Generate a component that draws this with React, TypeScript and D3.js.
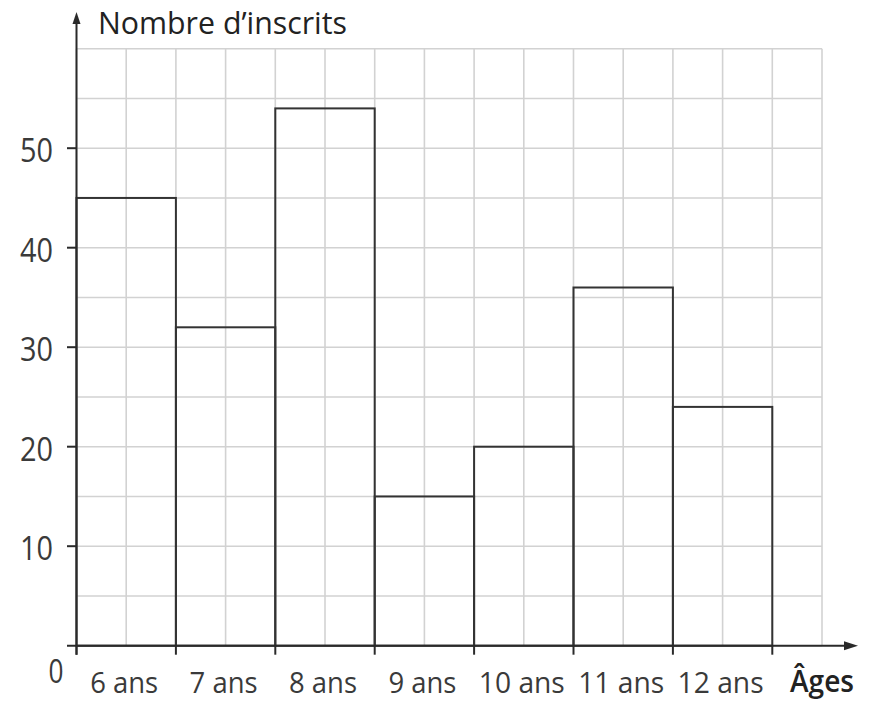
import React from "react";
import * as d3 from "d3";

const categories = ["6 ans", "7 ans", "8 ans", "9 ans", "10 ans", "11 ans", "12 ans"];
const values = [45, 32, 54, 15, 20, 36, 24];
const yTicks = [10, 20, 30, 40, 50];
const yTitle = "Nombre d\u2019inscrits";
const xTitle = "\u00C2ges";

const W = 872;
const H = 705;
const FONT = "'Open Sans', 'Noto Sans', sans-serif";

export default function App() {
  // each category spans 2 grid cells; grid has 15 cells horizontally
  const x = d3.scaleLinear().domain([0, 7.5]).range([76.5, 822]);
  const y = d3.scaleLinear().domain([0, 60]).range([645.7, 48.7]);

  const gridX = d3.range(0, 7.5 + 0.001, 0.5);
  const gridY = d3.range(0, 60 + 0.001, 5);

  const labelWidth = (s: string) => (s.length > 5 ? 86 : 68);

  return (
    <svg
      width={W}
      height={H}
      style={{ position: "absolute", left: 0, top: 0, background: "#fff" }}
    >
      {/* grid */}
      <g stroke="#d2d2d2" strokeWidth={1.6}>
        {gridX.map((g) => (
          <line key={"gx" + g} x1={x(g)} x2={x(g)} y1={y(0)} y2={y(60)} />
        ))}
        {gridY.map((g) => (
          <line key={"gy" + g} x1={x(0)} x2={x(7.5)} y1={y(g)} y2={y(g)} />
        ))}
      </g>

      {/* bars */}
      <g fill="none" stroke="#333" strokeWidth={2}>
        {values.map((v, i) => (
          <rect
            key={categories[i]}
            x={x(i)}
            y={y(v)}
            width={x(i + 1) - x(i)}
            height={y(0) - y(v)}
          />
        ))}
      </g>

      {/* axes */}
      <g stroke="#2a2a2a" strokeWidth={2}>
        <line x1={x(0)} x2={x(0)} y1={y(0) + 9} y2={22} />
        <line x1={67} x2={848} y1={y(0)} y2={y(0)} />
        {d3.range(0, 8).map((i) => (
          <line key={"xt" + i} x1={x(i)} x2={x(i)} y1={y(0)} y2={y(0) + 9} />
        ))}
        {yTicks.map((t) => (
          <line key={"yt" + t} x1={67} x2={x(0)} y1={y(t)} y2={y(t)} />
        ))}
      </g>
      <path d={`M${x(0)},12 L${x(0) - 4},24 L${x(0) + 4},24 Z`} fill="#2a2a2a" />
      <path d={`M858,${y(0)} L844,${y(0) - 4.5} L844,${y(0) + 4.5} Z`} fill="#2a2a2a" />

      {/* y tick labels */}
      <g fill="#3a3a3a" fontFamily={FONT} fontSize={33}>
        {yTicks.map((t) => (
          <text
            key={"yl" + t}
            x={53}
            y={y(t) + 14}
            textAnchor="end"
            textLength={33}
            lengthAdjust="spacingAndGlyphs"
          >
            {t}
          </text>
        ))}
        <text x={56} y={683} textAnchor="middle" textLength={15} lengthAdjust="spacingAndGlyphs">
          0
        </text>
      </g>

      {/* x category labels */}
      <g fill="#3a3a3a" fontFamily={FONT} fontSize={30}>
        {categories.map((c, i) => (
          <text
            key={"xl" + c}
            x={x(i + 0.5) - 2}
            y={693}
            textAnchor="middle"
            textLength={labelWidth(c)}
            lengthAdjust="spacingAndGlyphs"
          >
            {c}
          </text>
        ))}
      </g>

      {/* axis titles */}
      <text
        x={98}
        y={34}
        fill="#222"
        fontFamily={FONT}
        fontSize={31}
        textLength={249}
        lengthAdjust="spacingAndGlyphs"
      >
        {yTitle}
      </text>
      <text
        x={790}
        y={692}
        fill="#222"
        fontFamily={FONT}
        fontSize={31}
        fontWeight={600}
        textLength={64}
        lengthAdjust="spacingAndGlyphs"
      >
        {xTitle}
      </text>
    </svg>
  );
}
